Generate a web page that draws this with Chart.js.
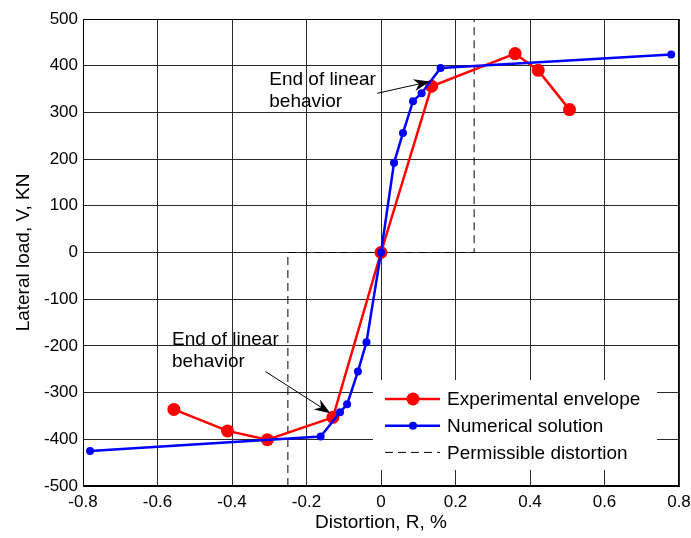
<!DOCTYPE html>
<html>
<head>
<meta charset="utf-8">
<script src="https://cdn.jsdelivr.net/npm/chart.js@4/dist/chart.umd.min.js"></script>
<style>
	html, body { margin: 0; padding: 0; background: #fff; }
	#wrap { width: 691px; height: 538px; }
</style>
</head>
<body>
<div id="wrap"><canvas id="chart"></canvas></div>
<script>
// values
const expX = [-0.556, -0.412, -0.305, -0.129, 0, 0.136, 0.36, 0.422, 0.506];
const expY = [-336, -382, -401, -353, 0, 356, 426, 390, 306];
const numX = [-0.781, -0.162, -0.11, -0.091, -0.062, -0.039, 0, 0.035, 0.059, 0.086, 0.109, 0.16, 0.779];
const numY = [-425, -394, -342, -325, -255, -192, 0, 192, 256, 324, 341, 395, 424];
const limX = [-0.25, -0.25, 0.25, 0.25];
const limY = [-500, 0, 0, 500];
const seriesNames = ["Experimental envelope", "Numerical solution", "Permissible distortion"];
const noteLines = ["End of linear", "behavior"];

const FONT = "'Liberation Sans', Arial, sans-serif";

const toPoints = (xs, ys) => xs.map((x, i) => ({ x: x, y: ys[i] }));

// annotation anchors, in data units
const notes = [
	{ text: [-0.3, 358], arrow: [[-0.01, 341], [0.131, 366]] },
	{ text: [-0.561, -198], arrow: [[-0.31, -255], [-0.136, -344]] },
];

// keep tick labels from pushing the plot area in
const noPad = s => {
	s.paddingLeft = 0;
	s.paddingRight = 0;
	s.paddingTop = 0;
	s.paddingBottom = 0;
};

const extras = {
	id: "extras",
	afterDraw(chart) {
		const { ctx, chartArea: a, scales } = chart;
		const sx = scales.x, sy = scales.y;
		ctx.save();

		// box around the axes
		ctx.strokeStyle = "#000";
		ctx.lineWidth = 1;
		ctx.strokeRect(a.left + 0.5, a.top + 0.5, a.right - a.left - 1, a.bottom - a.top - 1);

		// notes with arrows
		ctx.fillStyle = "#000";
		ctx.font = "19px " + FONT;
		ctx.textBaseline = "alphabetic";
		notes.forEach(n => {
			const tx = sx.getPixelForValue(n.text[0]);
			const ty = sy.getPixelForValue(n.text[1]);
			ctx.fillText(noteLines[0], tx, ty);
			ctx.fillText(noteLines[1], tx, ty + 22);

			const x0 = sx.getPixelForValue(n.arrow[0][0]);
			const y0 = sy.getPixelForValue(n.arrow[0][1]);
			const x1 = sx.getPixelForValue(n.arrow[1][0]);
			const y1 = sy.getPixelForValue(n.arrow[1][1]);
			const c = Math.cos(Math.atan2(y1 - y0, x1 - x0));
			const s = Math.sin(Math.atan2(y1 - y0, x1 - x0));
			ctx.beginPath();
			ctx.moveTo(x0, y0);
			ctx.lineTo(x1 - 10 * c, y1 - 10 * s);
			ctx.lineWidth = 1;
			ctx.stroke();
			ctx.beginPath();
			ctx.moveTo(x1, y1);
			ctx.lineTo(x1 - 16 * c + 6 * s, y1 - 16 * s - 6 * c);
			ctx.lineTo(x1 - 11 * c, y1 - 11 * s);
			ctx.lineTo(x1 - 16 * c - 6 * s, y1 - 16 * s + 6 * c);
			ctx.closePath();
			ctx.fill();
		});

		// legend, bottom right inside the axes
		const lx = a.right - 306, ly = a.bottom - 106;
		ctx.fillStyle = "#fff";
		ctx.fillRect(lx, ly, 284, 90);
		chart.data.datasets.forEach((ds, i) => {
			const y = ly + 19 + i * 26.7;
			ctx.beginPath();
			ctx.strokeStyle = ds.borderColor;
			ctx.lineWidth = ds.borderWidth;
			ctx.setLineDash(ds.borderDash || []);
			ctx.moveTo(lx + 12, y);
			ctx.lineTo(lx + 67, y);
			ctx.stroke();
			ctx.setLineDash([]);
			if (ds.pointRadius > 0) {
				ctx.beginPath();
				ctx.fillStyle = ds.pointBackgroundColor;
				ctx.arc(lx + 40, y, ds.pointRadius, 0, Math.PI * 2);
				ctx.fill();
			}
			ctx.fillStyle = "#000";
			ctx.font = "19px " + FONT;
			ctx.textBaseline = "middle";
			ctx.fillText(ds.label, lx + 74, y + 1);
		});
		ctx.restore();
	},
};

new Chart(document.getElementById("chart"), {
	type: "scatter",
	plugins: [extras],
	data: {
		datasets: [
			{
				label: seriesNames[0],
				data: toPoints(expX, expY),
				showLine: true,
				borderColor: "#ff0000",
				backgroundColor: "#ff0000",
				pointBackgroundColor: "#ff0000",
				pointBorderWidth: 0,
				borderWidth: 2.5,
				pointRadius: 6.5,
				order: 2,
			},
			{
				label: seriesNames[1],
				data: toPoints(numX, numY),
				showLine: true,
				borderColor: "#0000ff",
				backgroundColor: "#0000ff",
				pointBackgroundColor: "#0000ff",
				pointBorderWidth: 0,
				borderWidth: 2.5,
				pointRadius: 4,
				order: 1,
			},
			{
				label: seriesNames[2],
				data: toPoints(limX, limY),
				showLine: true,
				borderColor: "#000",
				borderWidth: 1,
				borderDash: [8, 5],
				pointRadius: 0,
				order: 3,
			},
		],
	},
	options: {
		responsive: true,
		maintainAspectRatio: false,
		animation: false,
		events: [],
		layout: { padding: { top: 19, right: 12, left: 0, bottom: 0 } },
		plugins: {
			legend: { display: false },
			tooltip: { enabled: false },
		},
		scales: {
			x: {
				type: "linear",
				min: -0.8,
				max: 0.8,
				afterFit: s => { s.height = 52; noPad(s); },
				ticks: {
					stepSize: 0.2,
					padding: 6,
					color: "#000",
					font: { family: FONT, size: 17 },
					callback: v => String(+v.toFixed(1)),
				},
				grid: { color: "#2a2a2a", lineWidth: 1, drawTicks: false },
				border: { display: true, color: "#000", width: 1 },
				title: {
					display: true,
					text: "Distortion, R, %",
					color: "#000",
					font: { family: FONT, size: 19 },
					padding: { top: 0, bottom: 4 },
				},
			},
			y: {
				type: "linear",
				min: -500,
				max: 500,
				afterFit: s => { s.width = 83; noPad(s); },
				ticks: {
					stepSize: 100,
					padding: 5,
					color: "#000",
					font: { family: FONT, size: 17 },
				},
				grid: { color: "#2a2a2a", lineWidth: 1, drawTicks: false },
				border: { display: true, color: "#000", width: 1 },
				title: {
					display: true,
					text: "Lateral load, V, KN",
					color: "#000",
					font: { family: FONT, size: 19 },
					padding: { top: 12, bottom: 0 },
				},
			},
		},
	},
});
</script>
</body>
</html>
